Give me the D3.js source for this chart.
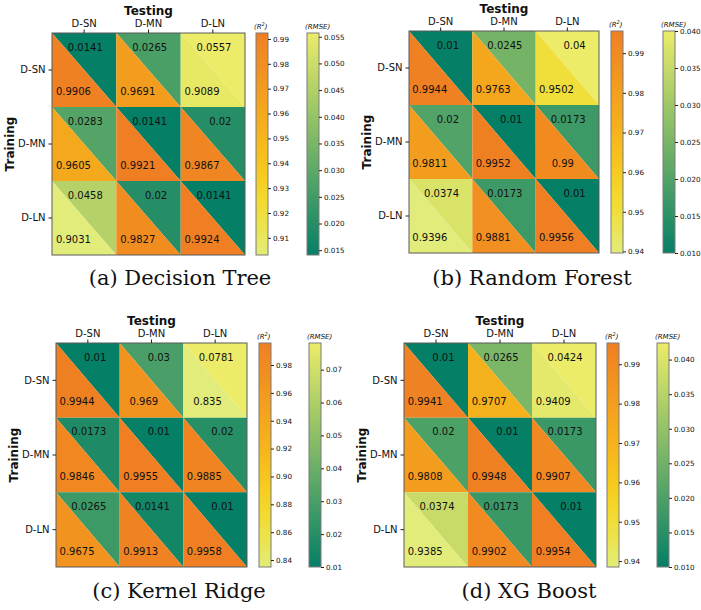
<!DOCTYPE html>
<meta charset="utf-8">
<style>
    body { margin: 0; background: #ffffff; }
    svg { display: block; }
    text { font-family: "DejaVu Sans", sans-serif; fill: #111; }
    .tick line { stroke: #222; }
    .caption { font-family: "DejaVu Serif", serif; font-size: 21px; }
</style>

<script src="https://d3js.org/d3.v7.min.js"></script>

<svg id="chart" width="701" height="610"></svg>

<script>

// =============================================================================
// Transfer heatmaps: R^2 (lower-left triangle) and RMSE (upper-right triangle)
// =============================================================================

// Data

var testingSets  = ['D-SN', 'D-MN', 'D-LN'];
var trainingSets = ['D-SN', 'D-MN', 'D-LN'];

var dtR2   = [[0.9906, 0.9691, 0.9089], [0.9605, 0.9921, 0.9867], [0.9031, 0.9827, 0.9924]];
var dtRmse = [[0.0141, 0.0265, 0.0557], [0.0283, 0.0141, 0.02],   [0.0458, 0.02,   0.0141]];

var rfR2   = [[0.9944, 0.9763, 0.9502], [0.9811, 0.9952, 0.99],   [0.9396, 0.9881, 0.9956]];
var rfRmse = [[0.01,   0.0245, 0.04],   [0.02,   0.01,   0.0173], [0.0374, 0.0173, 0.01]];

var krR2   = [[0.9944, 0.969,  0.835],  [0.9846, 0.9955, 0.9885], [0.9675, 0.9913, 0.9958]];
var krRmse = [[0.01,   0.03,   0.0781], [0.0173, 0.01,   0.02],   [0.0265, 0.0141, 0.01]];

var xgR2   = [[0.9941, 0.9707, 0.9409], [0.9808, 0.9948, 0.9907], [0.9385, 0.9902, 0.9954]];
var xgRmse = [[0.01,   0.0265, 0.0424], [0.02,   0.01,   0.0173], [0.0374, 0.0173, 0.01]];

// Colour bar tick labels
var dtR2Ticks   = [0.91, 0.92, 0.93, 0.94, 0.95, 0.96, 0.97, 0.98, 0.99];
var dtRmseTicks = [0.015, 0.020, 0.025, 0.030, 0.035, 0.040, 0.045, 0.050, 0.055];
var rfR2Ticks   = [0.94, 0.95, 0.96, 0.97, 0.98, 0.99];
var rfRmseTicks = [0.010, 0.015, 0.020, 0.025, 0.030, 0.035, 0.040];
var krR2Ticks   = [0.84, 0.86, 0.88, 0.90, 0.92, 0.94, 0.96, 0.98];
var krRmseTicks = [0.01, 0.02, 0.03, 0.04, 0.05, 0.06, 0.07];
var xgR2Ticks   = [0.94, 0.95, 0.96, 0.97, 0.98, 0.99];
var xgRmseTicks = [0.010, 0.015, 0.020, 0.025, 0.030, 0.035, 0.040];


// Layout for the four panels

var panels = [
    { caption: '(a) Decision Tree', r2: dtR2, rmse: dtRmse, r2Ticks: dtR2Ticks, rmseTicks: dtRmseTicks,
      r2Fmt: '.2f', rmseFmt: '.3f', x0: 52,  x1: 245, y0: 33,  y1: 255, cb1: 256, cb2: 307, cx: 180, cy: 285 },
    { caption: '(b) Random Forest', r2: rfR2, rmse: rfRmse, r2Ticks: rfR2Ticks, rmseTicks: rfRmseTicks,
      r2Fmt: '.2f', rmseFmt: '.3f', x0: 409, x1: 599, y0: 31,  y1: 253, cb1: 611, cb2: 663, cx: 532, cy: 285 },
    { caption: '(c) Kernel Ridge',  r2: krR2, rmse: krRmse, r2Ticks: krR2Ticks, rmseTicks: krRmseTicks,
      r2Fmt: '.2f', rmseFmt: '.2f', x0: 56,  x1: 247, y0: 343, y1: 567, cb1: 259, cb2: 309, cx: 179, cy: 598 },
    { caption: '(d) XG Boost',      r2: xgR2, rmse: xgRmse, r2Ticks: xgR2Ticks, rmseTicks: xgRmseTicks,
      r2Fmt: '.2f', rmseFmt: '.3f', x0: 404, x1: 596, y0: 343, y1: 567, cb1: 607, cb2: 657, cx: 529, cy: 598 }
];

var cbWidth = 12;

// Colour maps (Wistia-like for R^2, summer_r-like for RMSE)
var wistia = d3.interpolateRgbBasis(['#e2ec7a', '#f6dc1f', '#f6b81a', '#f39c1e', '#ef7f22']);
var summer = d3.interpolateRgb('#057f66', '#ecec68');

var svg = d3.select('svg#chart');
var gradId = 0;


function flat (m) {
    return [].concat.apply([], m);
}

function colorBar (g, left, top, bottom, domain, interp, ticks, fmt, label) {
    var id = 'grad' + (gradId++);
    var grad = svg.append('defs').append('linearGradient')
        .attr('id', id)
        .attr('x1', 0).attr('y1', 1).attr('x2', 0).attr('y2', 0);
    d3.range(0, 1.0001, 0.05).forEach(function (t) {
        grad.append('stop').attr('offset', t).attr('stop-color', interp(t));
    });

    g.append('rect')
        .attr('x', left).attr('y', top)
        .attr('width', cbWidth).attr('height', bottom - top)
        .attr('fill', 'url(#' + id + ')')
        .attr('stroke', '#7a7a7a')
        .attr('stroke-width', 1);

    var scale = d3.scaleLinear().domain(domain).range([bottom, top]);
    var axis = g.append('g')
        .attr('transform', 'translate(' + (left + cbWidth) + ',0)')
        .call(d3.axisRight(scale).tickValues(ticks).tickSize(3).tickPadding(2).tickFormat(d3.format(fmt)));
    axis.select('.domain').remove();
    axis.selectAll('text').style('font-size', '7.2px').style('font-family', '"DejaVu Sans", sans-serif').attr('fill', '#222');

    var t = g.append('text')
        .attr('x', left - 2).attr('y', top - 4)
        .style('font-size', '7px').style('font-style', 'italic');
    if (label === 'R2') {
        t.append('tspan').text('(R');
        t.append('tspan').attr('dy', -3).style('font-size', '5px').text('2');
        t.append('tspan').attr('dy', 3).text(')');
    } else {
        t.text('(RMSE)');
    }
}


function drawPanel (p) {
    var g = svg.append('g');

    var x = d3.scaleBand().domain(testingSets).range([p.x0, p.x1]);
    var y = d3.scaleBand().domain(trainingSets).range([p.y0, p.y1]);
    var w = x.bandwidth(), h = y.bandwidth();

    var r2Domain   = d3.extent(flat(p.r2));
    var rmseDomain = d3.extent(flat(p.rmse));
    var r2Color   = d3.scaleSequential(wistia).domain(r2Domain);
    var rmseColor = d3.scaleSequential(summer).domain(rmseDomain);

    var cells = [];
    trainingSets.forEach(function (tr, i) {
        testingSets.forEach(function (te, j) {
            cells.push({ tr: tr, te: te, r2: p.r2[i][j], rmse: p.rmse[i][j] });
        });
    });

    var cell = g.selectAll('g.cell').data(cells).enter().append('g').attr('class', 'cell');

    // upper-right triangle: RMSE
    cell.append('path')
        .attr('d', function (d) {
            var cx = x(d.te), cy = y(d.tr);
            return 'M' + cx + ',' + cy + 'L' + (cx + w) + ',' + cy + 'L' + (cx + w) + ',' + (cy + h) + 'Z';
        })
        .attr('fill', function (d) { return rmseColor(d.rmse); });

    // lower-left triangle: R^2
    cell.append('path')
        .attr('d', function (d) {
            var cx = x(d.te), cy = y(d.tr);
            return 'M' + cx + ',' + cy + 'L' + (cx + w) + ',' + (cy + h) + 'L' + cx + ',' + (cy + h) + 'Z';
        })
        .attr('fill', function (d) { return r2Color(d.r2); });

    cell.append('text')
        .attr('x', function (d) { return x(d.te) + 0.79 * w; })
        .attr('y', function (d) { return y(d.tr) + 0.19 * h; })
        .attr('dy', '0.35em')
        .attr('text-anchor', 'end')
        .style('font-size', '10px')
        .text(function (d) { return String(d.rmse); });

    cell.append('text')
        .attr('x', function (d) { return x(d.te) + 0.605 * w; })
        .attr('y', function (d) { return y(d.tr) + 0.79 * h; })
        .attr('dy', '0.35em')
        .attr('text-anchor', 'end')
        .style('font-size', '10px')
        .text(function (d) { return String(d.r2); });

    // frame
    g.append('rect')
        .attr('x', p.x0).attr('y', p.y0)
        .attr('width', p.x1 - p.x0).attr('height', p.y1 - p.y0)
        .attr('fill', 'none').attr('stroke', '#5a5a5a').attr('stroke-width', 1);

    // axes
    var top = g.append('g')
        .attr('transform', 'translate(0,' + p.y0 + ')')
        .call(d3.axisTop(x).tickSize(3.5).tickPadding(3));
    top.select('.domain').remove();
    top.selectAll('text').style('font-size', '10px').style('font-family', '"DejaVu Sans", sans-serif').attr('fill', '#111');

    var left = g.append('g')
        .attr('transform', 'translate(' + p.x0 + ',0)')
        .call(d3.axisLeft(y).tickSize(3.5).tickPadding(3));
    left.select('.domain').remove();
    left.selectAll('text').style('font-size', '10px').style('font-family', '"DejaVu Sans", sans-serif').attr('fill', '#111');

    g.append('text')
        .attr('x', (p.x0 + p.x1) / 2).attr('y', p.y0 - 18)
        .attr('text-anchor', 'middle')
        .style('font-size', '12px').style('font-weight', 'bold')
        .text('Testing');

    g.append('text')
        .attr('transform', 'translate(' + (p.x0 - 38) + ',' + ((p.y0 + p.y1) / 2) + ') rotate(-90)')
        .attr('text-anchor', 'middle')
        .style('font-size', '12px').style('font-weight', 'bold')
        .text('Training');

    // colour bars
    colorBar(g, p.cb1, p.y0, p.y1, r2Domain, wistia, p.r2Ticks, p.r2Fmt, 'R2');
    colorBar(g, p.cb2, p.y0, p.y1, rmseDomain, summer, p.rmseTicks, p.rmseFmt, 'RMSE');

    g.append('text')
        .attr('class', 'caption')
        .attr('x', p.cx).attr('y', p.cy)
        .attr('text-anchor', 'middle')
        .text(p.caption);
}

panels.forEach(drawPanel);

</script>
